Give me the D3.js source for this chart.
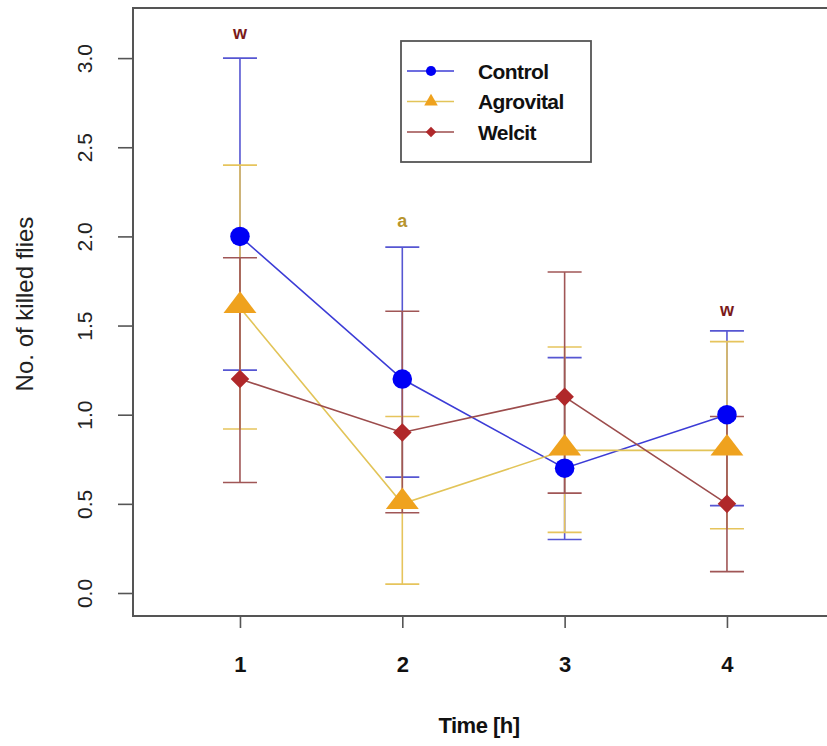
<!DOCTYPE html>
<html>
<head>
<meta charset="utf-8">
<script src="https://cdn.jsdelivr.net/npm/d3@7"></script>
<style>
  body { margin: 0; background: #ffffff; overflow: hidden; }
  text { font-family: "Liberation Sans", Arial, sans-serif; }
</style>
</head>
<body>
<div id="chart"></div>
<script>
// Data
const times = [1, 2, 3, 4]
const seriesNames = ["Control", "Agrovital", "Welcit"]

const controlMean  = [2.0, 1.2, 0.7, 1.0]
const controlUpper = [3.0, 1.94, 1.32, 1.47]
const controlLower = [1.25, 0.65, 0.30, 0.49]

const agroMean  = [1.6, 0.5, 0.8, 0.8]
const agroUpper = [2.4, 0.99, 1.38, 1.41]
const agroLower = [0.92, 0.05, 0.34, 0.36]

const welcitMean  = [1.2, 0.9, 1.1, 0.5]
const welcitUpper = [1.88, 1.58, 1.80, 0.99]
const welcitLower = [0.62, 0.45, 0.56, 0.12]

const yTicks = [0, 0.5, 1, 1.5, 2, 2.5, 3]

// significance letters above the bars
const annoTimes  = [1, 2, 4]
const annoValues = [3.14, 2.09, 1.59]
const annoLabels = ["w", "a", "w"]
const annoSeries = ["Welcit", "Agrovital", "Welcit"]

// Chart parameters
const WIDTH = 827
const HEIGHT = 746
const box = { left: 133, right: 829, top: 8, bottom: 616 }

const styles = {
    Control:   { line: "#3c3cd6", bar: "#5656d2", fill: "#0000f5", shape: "circle" },
    Agrovital: { line: "#e2c458", bar: "#e6c45c", fill: "#efa21e", shape: "triangle" },
    Welcit:    { line: "#9c4c4c", bar: "#a05656", fill: "#b0282a", shape: "diamond" }
}
const annoColors = { Welcit: "#7a1a1a", Agrovital: "#b8952e" }

const series = [
    { name: "Control", mean: controlMean, upper: controlUpper, lower: controlLower },
    { name: "Agrovital", mean: agroMean, upper: agroUpper, lower: agroLower },
    { name: "Welcit", mean: welcitMean, upper: welcitUpper, lower: welcitLower }
]

const svg = d3.select("#chart")
    .append("svg")
    .attr("width", WIDTH)
    .attr("height", HEIGHT)

// scales (x range runs slightly past the page edge, as in the cropped original)
const x = d3.scaleLinear().domain([0.341, 4.604]).range([box.left, 825])
const y = d3.scaleLinear().domain([-0.129, 3.281]).range([box.bottom, box.top])

// symbols
function symbolFor(shape, big) {
    if (shape === "circle") return d3.symbol().type(d3.symbolCircle).size(big ? 300 : 80)
    if (shape === "triangle") return d3.symbol().type(d3.symbolTriangle).size(big ? 300 : 80)
    return d3.symbol().type(d3.symbolDiamond2 || d3.symbolDiamond).size(big ? 220 : 70)
}

// error bars, drawn in series order so later ones overlap
const capHalf = 17
series.forEach(s => {
    const g = svg.append("g").attr("stroke", styles[s.name].bar).attr("stroke-width", 1.6).attr("fill", "none")
    times.forEach((t, i) => {
        g.append("line").attr("x1", x(t)).attr("x2", x(t)).attr("y1", y(s.upper[i])).attr("y2", y(s.lower[i]))
        g.append("line").attr("x1", x(t) - capHalf).attr("x2", x(t) + capHalf).attr("y1", y(s.upper[i])).attr("y2", y(s.upper[i]))
        g.append("line").attr("x1", x(t) - capHalf).attr("x2", x(t) + capHalf).attr("y1", y(s.lower[i])).attr("y2", y(s.lower[i]))
    })
})

// connecting lines
const lineGen = d3.line().x(d => x(d[0])).y(d => y(d[1]))
series.forEach(s => {
    svg.append("path")
        .datum(times.map((t, i) => [t, s.mean[i]]))
        .attr("d", lineGen)
        .attr("fill", "none")
        .attr("stroke", styles[s.name].line)
        .attr("stroke-width", 1.6)
})

// markers
const markerOrder = ["Agrovital", "Welcit", "Control"]
markerOrder.forEach(name => {
    const s = series.find(d => d.name === name)
    const st = styles[name]
    svg.append("g")
        .selectAll("path")
        .data(times.map((t, i) => [t, s.mean[i]]))
        .enter()
        .append("path")
        .attr("d", symbolFor(st.shape, true))
        .attr("transform", d => {
            const dy = st.shape === "triangle" ? -2 : 0
            return `translate(${x(d[0])},${y(d[1]) + dy})` + (st.shape === "triangle" ? " scale(1.25,0.95)" : "")
        })
        .attr("fill", st.fill)
})

// annotations
svg.append("g")
    .selectAll("text")
    .data(annoTimes.map((t, i) => ({ t: t, v: annoValues[i], label: annoLabels[i], s: annoSeries[i] })))
    .enter()
    .append("text")
    .attr("x", d => x(d.t))
    .attr("y", d => y(d.v))
    .attr("dy", "0.35em")
    .attr("text-anchor", "middle")
    .style("font-size", "18px")
    .style("font-weight", "bold")
    .attr("fill", d => annoColors[d.s])
    .text(d => d.label)

// y axis
const yAxis = svg.append("g")
    .attr("transform", `translate(${box.left},0)`)
    .call(d3.axisLeft(y).tickValues(yTicks).tickSize(15).tickFormat(d3.format(".1f")))
yAxis.select(".domain").remove()
yAxis.selectAll(".tick line").attr("stroke", "#555").attr("stroke-width", 1.6)
yAxis.selectAll(".tick text")
    .attr("x", 0).attr("y", 0).attr("dy", "0.36em")
    .attr("text-anchor", "middle")
    .attr("transform", "translate(-49,0) rotate(-90)")
    .style("font-size", "21px")
    .attr("fill", "#222")

// x axis
const xAxis = svg.append("g")
    .attr("transform", `translate(0,${box.bottom})`)
    .call(d3.axisBottom(x).tickValues(times).tickSize(12).tickFormat(d3.format("d")))
xAxis.select(".domain").remove()
xAxis.selectAll(".tick line").attr("stroke", "#555").attr("stroke-width", 1.6)
xAxis.selectAll(".tick text")
    .attr("y", 56)
    .attr("dy", 0)
    .style("font-size", "22px")
    .style("font-weight", "bold")
    .attr("fill", "#111")

// frame (right side falls just outside the page)
svg.append("rect")
    .attr("x", box.left).attr("y", box.top)
    .attr("width", box.right - box.left).attr("height", box.bottom - box.top)
    .attr("fill", "none").attr("stroke", "#555").attr("stroke-width", 2)

// axis titles
svg.append("text")
    .attr("x", 479)
    .attr("y", 733)
    .attr("text-anchor", "middle")
    .style("font-size", "22px")
    .style("font-weight", "bold")
    .style("letter-spacing", "-0.5px")
    .attr("fill", "#111")
    .text("Time [h]")

svg.append("text")
    .attr("transform", "translate(25,304) rotate(-90)")
    .attr("dy", "0.35em")
    .attr("text-anchor", "middle")
    .style("font-size", "24px")
    .attr("fill", "#222")
    .text("No. of killed flies")

// legend
const legend = svg.append("g")
legend.append("rect")
    .attr("x", 401).attr("y", 41).attr("width", 190).attr("height", 121)
    .attr("fill", "#fff").attr("stroke", "#555").attr("stroke-width", 1.8)
const legendY = d3.scalePoint().domain(seriesNames).range([71, 132])
seriesNames.forEach(name => {
    const st = styles[name]
    const ly = legendY(name)
    legend.append("line")
        .attr("x1", 407).attr("x2", 454).attr("y1", ly).attr("y2", ly)
        .attr("stroke", st.line).attr("stroke-width", 1.6)
    legend.append("path")
        .attr("d", symbolFor(st.shape, false))
        .attr("transform", `translate(431,${ly})`)
        .attr("fill", st.fill)
    legend.append("text")
        .attr("x", 478).attr("y", ly).attr("dy", "0.36em")
        .style("font-size", "21px")
        .style("font-weight", "bold")
        .style("letter-spacing", "-0.6px")
        .attr("fill", "#111")
        .text(name)
})
</script>
</body>
</html>
